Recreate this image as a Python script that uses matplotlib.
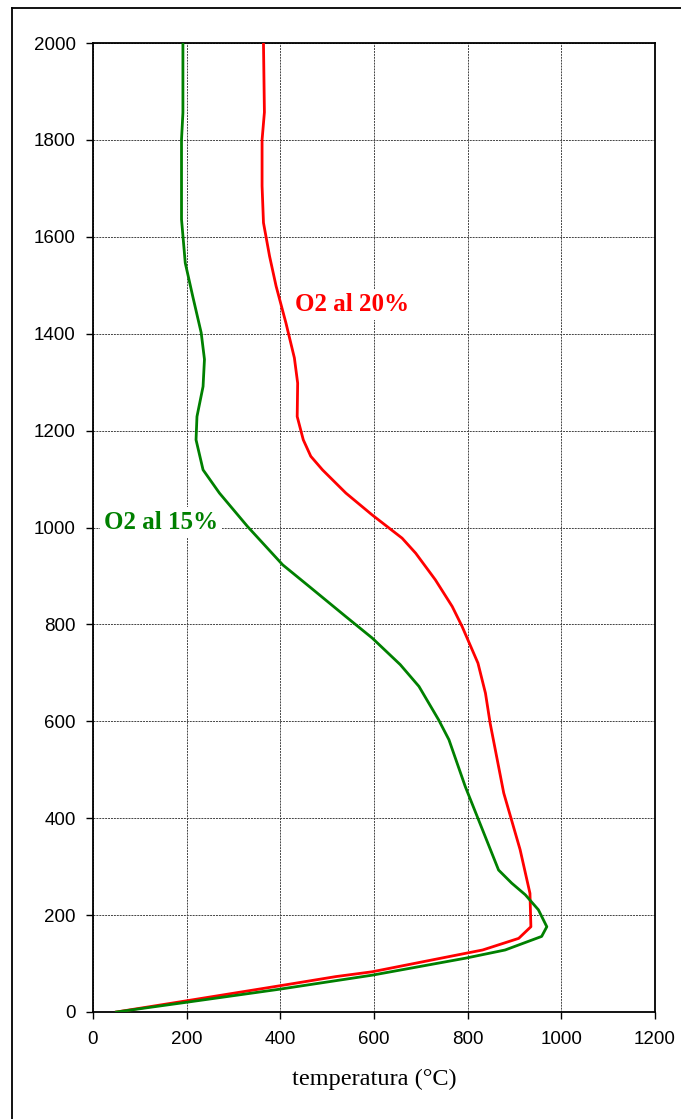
import matplotlib
matplotlib.use("Agg")
import matplotlib.pyplot as plt
from matplotlib.lines import Line2D

# Data (temperature °C vs height)
red_h = [2000, 1857, 1800, 1705, 1629, 1560, 1498, 1422, 1350, 1298, 1229, 1181, 1147, 1119,
         1071, 1026, 978, 947, 892, 837, 796, 720, 658, 596, 452, 335, 245, 176, 152, 128,
         121, 83, 73, 54, 23, 0]
red_t = [364, 366, 361, 361, 364, 377, 391, 412, 430, 437, 436, 449, 465, 490,
         540, 596, 660, 689, 731, 767, 788, 822, 838, 848, 877, 912, 933, 935, 909, 832,
         795, 596, 518, 398, 199, 50]

green_h = [2000, 1856, 1801, 1636, 1546, 1477, 1402, 1347, 1291, 1229, 1181, 1119, 1071,
           1002, 923, 878, 816, 772, 717, 672, 603, 562, 465, 293, 266, 242, 211, 176, 156,
           128, 111, 76, 47, 20, 0]
green_t = [192, 192, 189, 189, 197, 213, 231, 238, 235, 222, 220, 235, 270,
           330, 405, 462, 540, 596, 656, 696, 738, 760, 795, 866, 894, 923, 951, 969, 958,
           880, 795, 596, 398, 199, 50]

x_ticks = [0, 200, 400, 600, 800, 1000, 1200]
y_ticks = [0, 200, 400, 600, 800, 1000, 1200, 1400, 1600, 1800, 2000]
xlabel = "temperatura (°C)"
label_red = "O2 al 20%"
label_green = "O2 al 15%"

W, H = 681, 1119
fig = plt.figure(figsize=(W / 100, H / 100), dpi=100)
fig.patch.set_facecolor("white")

ax = fig.add_axes([93 / W, 1 - 1012 / H, (655 - 93) / W, (1012 - 43) / H])

ax.plot(red_t, red_h, color="#FF0000", lw=2.0, solid_joinstyle="round", zorder=3)
ax.plot(green_t, green_h, color="#008000", lw=2.0, solid_joinstyle="round", zorder=3)

ax.set_xlim(0, 1200)
ax.set_ylim(0, 2000)
ax.set_xticks(x_ticks)
ax.set_yticks(y_ticks)
ax.tick_params(direction="out", length=5, width=1.0, labelsize=13.5)
ax.tick_params(axis="x", pad=9)
ax.tick_params(axis="y", pad=7.5)
for lab in ax.get_xticklabels() + ax.get_yticklabels():
    lab.set_family("Liberation Sans")

ax.grid(True, color="#444444", lw=0.7, linestyle=(0, (2, 1)), zorder=1)
ax.set_axisbelow(True)
for s in ax.spines.values():
    s.set_linewidth(1.3)
    s.set_color("black")

ax.set_xlabel(xlabel, family="Liberation Serif", fontsize=17.5, labelpad=15)

bb = dict(boxstyle="square,pad=0.15", fc="white", ec="none")
ax.text(432, 1460, label_red, color="#FF0000", family="Liberation Serif",
        fontweight="bold", fontsize=18, ha="left", va="center", bbox=bb, zorder=4)
ax.text(23, 1010, label_green, color="#008000", family="Liberation Serif",
        fontweight="bold", fontsize=18, ha="left", va="center", bbox=bb, zorder=4)

# outer frame (cut off at right and bottom)
fig.add_artist(Line2D([12 / W, 12 / W], [0, 1 - 8 / H], transform=fig.transFigure,
                      color="black", lw=1.3))
fig.add_artist(Line2D([12 / W, 1], [1 - 8 / H, 1 - 8 / H], transform=fig.transFigure,
                      color="black", lw=1.3))

fig.savefig("out.png", dpi=100, facecolor="white")
